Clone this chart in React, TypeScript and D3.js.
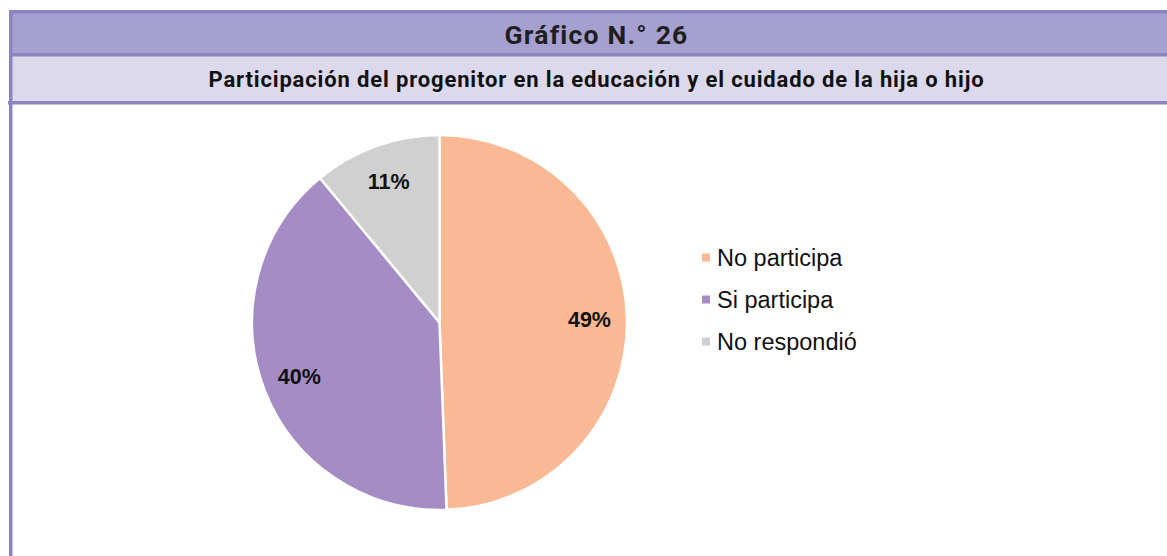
import React from "react";
import * as d3 from "d3";

const categories = ["No participa", "Si participa", "No respondió"];
const values = [49.4, 39.6, 11.0];
const colors = ["#f9b995", "#a48cc4", "#d0d0d0"];
const title = "Gráfico N.° 26";
const subtitle = "Participación del progenitor en la educación y el cuidado de la hija o hijo";

const W = 1167;
const H = 556;

export default function App() {
  const cx = 439.5;
  const cy = 322.5;
  const R = 187.5;
  const total = d3.sum(values);
  const pie = d3.pie<number>().sort(null).value((d) => d);
  const arcs = pie(values);
  const arc = d3.arc<d3.PieArcDatum<number>>().innerRadius(0).outerRadius(R);
  const labelArc = d3
    .arc<d3.PieArcDatum<number>>()
    .innerRadius(R * 0.8)
    .outerRadius(R * 0.8);
  const fmt = d3.format(".0%");
  const legendY = d3
    .scalePoint<string>()
    .domain(categories)
    .range([258, 342]);

  const border = "#8a84c0";

  return (
    <svg
      width={W}
      height={H}
      style={{ position: "absolute", left: 0, top: 0, display: "block" }}
    >
      <rect x={0} y={0} width={W} height={H} fill="#ffffff" />
      {/* header bands */}
      <rect x={9} y={10} width={W - 9} height={43} fill="#a5a0cf" />
      <rect x={9} y={53} width={W - 9} height={48} fill="#dcd9ec" />
      <rect x={9} y={10} width={W - 9} height={3.5} fill={border} />
      <rect x={9} y={53} width={W - 9} height={3.5} fill={border} />
      <rect x={8} y={101} width={W - 8} height={3.5} fill={border} />
      <rect x={9} y={10} width={3.5} height={H - 10} fill={border} />
      <text
        x={596.5}
        y={44}
        textAnchor="middle"
        fontFamily="Roboto"
        fontWeight={700}
        fontSize={26.5}
        letterSpacing={1.2}
        fill="#1f1f1f"
      >
        {title}
      </text>
      <text
        x={596.5}
        y={86.5}
        textAnchor="middle"
        fontFamily="Roboto"
        fontWeight={700}
        fontSize={22}
        letterSpacing={0.85}
        fill="#111111"
      >
        {subtitle}
      </text>
      {/* pie */}
      <g transform={`translate(${cx},${cy})`}>
        {arcs.map((a, i) => (
          <path
            key={categories[i]}
            d={arc(a) || ""}
            fill={colors[i]}
            stroke="#ffffff"
            strokeWidth={2.5}
          />
        ))}
        {arcs.map((a, i) => {
          const [lx, ly] = labelArc.centroid(a);
          return (
            <text
              key={"l" + categories[i]}
              x={lx}
              y={ly}
              dy="0.36em"
              textAnchor="middle"
              fontFamily="Liberation Sans, Arial, sans-serif"
              fontWeight={700}
              fontSize={21.5}
              fill="#111111"
            >
              {fmt(a.data / total)}
            </text>
          );
        })}
      </g>
      {/* legend */}
      {categories.map((c, i) => (
        <g key={"lg" + c} transform={`translate(702,${legendY(c)})`}>
          <rect x={0} y={-4.5} width={8} height={8} fill={colors[i]} />
          <text
            x={15}
            y={8}
            fontFamily="Liberation Sans, Arial, sans-serif"
            fontSize={23.5}
            fill="#111111"
          >
            {c}
          </text>
        </g>
      ))}
    </svg>
  );
}
